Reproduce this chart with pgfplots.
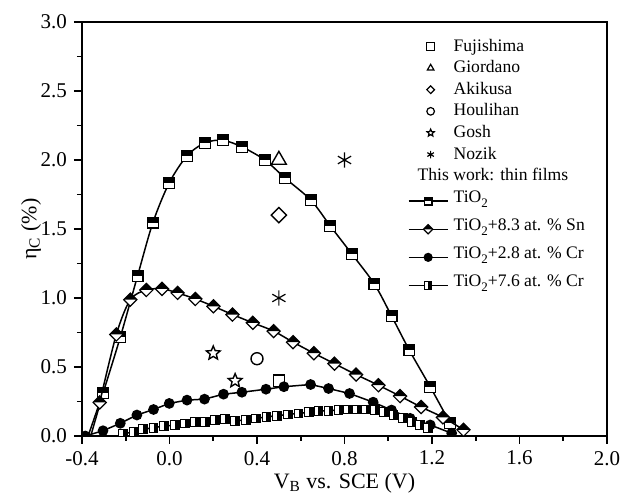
\documentclass[border=0pt]{standalone}
\usepackage{fontspec}
\setmainfont{Liberation Serif}
\usepackage{pgfplots}
\pgfplotsset{compat=1.18}

\pgfdeclareplotmark{sqtop}{%
 \pgfpathrectangle{\pgfqpoint{-\pgfplotmarksize}{-\pgfplotmarksize}}{\pgfqpoint{2\pgfplotmarksize}{2\pgfplotmarksize}}%
 \pgfsetfillcolor{white}\pgfusepathqfill
 \pgfpathrectangle{\pgfqpoint{-\pgfplotmarksize}{0pt}}{\pgfqpoint{2\pgfplotmarksize}{\pgfplotmarksize}}%
 \pgfsetfillcolor{black}\pgfusepathqfill
 \pgfpathrectangle{\pgfqpoint{-\pgfplotmarksize}{-\pgfplotmarksize}}{\pgfqpoint{2\pgfplotmarksize}{2\pgfplotmarksize}}%
 \pgfusepathqstroke
}
\pgfdeclareplotmark{sqright}{%
 \pgfpathrectangle{\pgfqpoint{-\pgfplotmarksize}{-\pgfplotmarksize}}{\pgfqpoint{2\pgfplotmarksize}{2\pgfplotmarksize}}%
 \pgfsetfillcolor{white}\pgfusepathqfill
 \pgfpathrectangle{\pgfqpoint{0pt}{-\pgfplotmarksize}}{\pgfqpoint{\pgfplotmarksize}{2\pgfplotmarksize}}%
 \pgfsetfillcolor{black}\pgfusepathqfill
 \pgfpathrectangle{\pgfqpoint{-\pgfplotmarksize}{-\pgfplotmarksize}}{\pgfqpoint{2\pgfplotmarksize}{2\pgfplotmarksize}}%
 \pgfusepathqstroke
}
\pgfdeclareplotmark{diatop}{%
 \pgfpathmoveto{\pgfqpoint{0pt}{\pgfplotmarksize}}%
 \pgfpathlineto{\pgfqpoint{\pgfplotmarksize}{0pt}}%
 \pgfpathlineto{\pgfqpoint{0pt}{-\pgfplotmarksize}}%
 \pgfpathlineto{\pgfqpoint{-\pgfplotmarksize}{0pt}}%
 \pgfpathclose
 \pgfsetfillcolor{white}\pgfusepathqfill
 \pgfpathmoveto{\pgfqpoint{-\pgfplotmarksize}{0pt}}%
 \pgfpathlineto{\pgfqpoint{0pt}{\pgfplotmarksize}}%
 \pgfpathlineto{\pgfqpoint{\pgfplotmarksize}{0pt}}%
 \pgfpathclose
 \pgfsetfillcolor{black}\pgfusepathqfill
 \pgfpathmoveto{\pgfqpoint{0pt}{\pgfplotmarksize}}%
 \pgfpathlineto{\pgfqpoint{\pgfplotmarksize}{0pt}}%
 \pgfpathlineto{\pgfqpoint{0pt}{-\pgfplotmarksize}}%
 \pgfpathlineto{\pgfqpoint{-\pgfplotmarksize}{0pt}}%
 \pgfpathclose
 \pgfusepathqstroke
}
\pgfdeclareplotmark{openstar}{%
 \pgfpathmoveto{\pgfpointpolar{90}{\pgfplotmarksize}}%
 \pgfpathlineto{\pgfpointpolar{126}{0.45*\pgfplotmarksize}}%
 \pgfpathlineto{\pgfpointpolar{162}{\pgfplotmarksize}}%
 \pgfpathlineto{\pgfpointpolar{198}{0.45*\pgfplotmarksize}}%
 \pgfpathlineto{\pgfpointpolar{234}{\pgfplotmarksize}}%
 \pgfpathlineto{\pgfpointpolar{270}{0.45*\pgfplotmarksize}}%
 \pgfpathlineto{\pgfpointpolar{306}{\pgfplotmarksize}}%
 \pgfpathlineto{\pgfpointpolar{342}{0.45*\pgfplotmarksize}}%
 \pgfpathlineto{\pgfpointpolar{18}{\pgfplotmarksize}}%
 \pgfpathlineto{\pgfpointpolar{54}{0.45*\pgfplotmarksize}}%
 \pgfpathclose
 \pgfusepathqstroke
}
\pgfdeclareplotmark{opendia}{%
 \pgfpathmoveto{\pgfqpoint{0pt}{\pgfplotmarksize}}%
 \pgfpathlineto{\pgfqpoint{\pgfplotmarksize}{0pt}}%
 \pgfpathlineto{\pgfqpoint{0pt}{-\pgfplotmarksize}}%
 \pgfpathlineto{\pgfqpoint{-\pgfplotmarksize}{0pt}}%
 \pgfpathclose
 \pgfusepathqstroke
}

\newcommand\lsub[1]{\raisebox{-0.7ex}{\fontsize{6.5}{7}\selectfont #1}}

\pgfplotsset{
 markleg/.style={legend image code/.code={\path[draw=none,fill=none] (0pt,0pt) rectangle (21.5pt,0.1pt); \draw[##1, mark size=1.9pt, line width=0.6pt] plot coordinates {(11pt,0pt)};}},
 lineleg/.style={legend image code/.code={\path[draw=none,fill=none] (0pt,-6.3pt) rectangle (21.5pt,2.3pt); \draw[##1, mark size=#1, mark repeat=2, mark phase=2] plot coordinates {(0pt,0pt) (9.75pt,0pt) (19.5pt,0pt)};}},
}

\begin{document}
\begin{tikzpicture}
\begin{axis}[
 width=262.5pt, height=207pt, scale only axis,
 xmin=-0.4, xmax=2.0, ymin=0, ymax=3.0,
 xtick={-0.4,0,0.4,0.8,1.2,1.6,2.0},
 minor xtick={-0.2,0.2,0.6,1.0,1.4,1.8},
 ytick={0,0.5,1.0,1.5,2.0,2.5,3.0},
 minor ytick={0.25,0.75,1.25,1.75,2.25,2.75},
 tick align=outside, xtick pos=left, ytick pos=left,
 major tick length=4pt, minor tick length=2.5pt,
 every tick/.style={black, line width=0.9pt},
 axis line style={line width=1pt},
 /pgf/number format/assume math mode=true,
 xticklabel style={/pgf/number format/.cd, fixed, fixed zerofill, precision=1},
 yticklabel style={/pgf/number format/.cd, fixed, fixed zerofill, precision=1},
 tick label style={font=\fontsize{10.5}{12}\selectfont},
 label style={font=\fontsize{11}{13}\selectfont},
 xlabel={V\textsubscript{B} vs. SCE (V)},
 xlabel style={yshift=3pt},
 ylabel={η\textsubscript{C} (\%)},
 ylabel style={yshift=-7pt},
 clip marker paths=true,
 legend cell align=left,
 legend style={at={(axis description cs:0.620,0.965)}, anchor=north west,
   draw=none, fill=none, inner sep=0pt, row sep=1.2pt,
   font=\fontsize{8.8}{10}\selectfont, nodes={inner sep=1pt}},
]
% literature points
\addplot[only marks, mark=square, mark size=2.8pt, line width=0.7pt, markleg] coordinates {(0.5,0.40)};
\addlegendentry{Fujishima}
\addplot[only marks, mark=triangle, mark size=4.3pt, line width=0.7pt, markleg] coordinates {(0.5,2.0)};
\addlegendentry{Giordano}
\addplot[only marks, mark=opendia, mark size=3.8pt, line width=0.7pt, markleg] coordinates {(0.5,1.6)};
\addlegendentry{Akikusa}
\addplot[only marks, mark=o, mark size=3pt, line width=0.7pt, markleg] coordinates {(0.4,0.56)};
\addlegendentry{Houlihan}
\addplot[only marks, mark=openstar, mark size=3.6pt, line width=0.7pt, markleg] coordinates {(0.2,0.60) (0.3,0.40)};
\addlegendentry{Gosh}
\addplot[only marks, mark=asterisk, mark size=3.8pt, line width=0.6pt, markleg] coordinates {(0.5,1.0) (0.8,2.0)};
\addlegendentry{Nozik}
\addlegendimage{empty legend}
\addlegendentry{\hspace*{-18pt}This work: thin films}
% tails
\addplot[forget plot, line width=0.75pt] coordinates {(-0.36,0) (-0.304,0.31)};
\addplot[forget plot, line width=0.75pt] coordinates {(-0.372,0) (-0.319,0.243)};
% TiO2
\addplot[smooth, line width=0.75pt, mark=sqtop, mark size=2.7pt, mark options={line width=0.6pt}, lineleg=1.9pt] coordinates {
(-0.304,0.31) (-0.225,0.716) (-0.146,1.16) (-0.076,1.546) (-0.001,1.835) (0.08,2.03) (0.162,2.124) (0.244,2.143) (0.331,2.095) (0.436,2.0) (0.529,1.868) (0.647,1.708) (0.735,1.522) (0.834,1.318) (0.937,1.10) (1.015,0.87) (1.097,0.62) (1.192,0.356) (1.283,0.092)};
\addlegendentry[text depth=5pt]{TiO\lsub{2}}
% Sn
\addplot[smooth, line width=0.75pt, mark=diatop, mark size=3.3pt, mark options={line width=0.6pt}, lineleg=2.3pt] coordinates {
(-0.319,0.243) (-0.243,0.736) (-0.179,0.988) (-0.106,1.058) (-0.034,1.066) (0.037,1.037) (0.118,0.993) (0.201,0.94) (0.288,0.88) (0.381,0.82) (0.476,0.76) (0.565,0.68) (0.66,0.60) (0.754,0.524) (0.853,0.445) (0.955,0.368) (1.054,0.289) (1.15,0.21) (1.25,0.135) (1.344,0.045)};
\addlegendentry[text depth=5pt]{TiO\lsub{2}+8.3 at. \% Sn}
% Cr 2.8
\addplot[line width=0.75pt, mark=*, mark size=2.3pt, lineleg=1.9pt] coordinates {
(-0.385,0.0) (-0.304,0.038) (-0.225,0.092) (-0.149,0.152) (-0.073,0.192) (-0.001,0.236) (0.08,0.26) (0.16,0.267) (0.247,0.303) (0.331,0.317) (0.441,0.339) (0.523,0.357) (0.645,0.373) (0.727,0.344) (0.823,0.308) (0.931,0.245) (1.015,0.188) (1.10,0.128) (1.192,0.08) (1.29,0.02)};
\addlegendentry[text depth=5pt]{TiO\lsub{2}+2.8 at. \% Cr}
% Cr 7.6
\addplot[line width=0.75pt, mark=sqright, mark size=2.2pt, mark options={line width=0.5pt}, lineleg=1.8pt] coordinates {
(-0.213,0.014) (-0.164,0.031) (-0.121,0.048) (-0.073,0.06) (-0.024,0.072) (0.026,0.079) (0.072,0.091) (0.118,0.099) (0.163,0.103) (0.209,0.115) (0.255,0.123) (0.30,0.108) (0.351,0.118) (0.397,0.127) (0.443,0.139) (0.491,0.147) (0.54,0.156) (0.59,0.163) (0.636,0.171) (0.681,0.18) (0.727,0.183) (0.773,0.188) (0.814,0.192) (0.856,0.192) (0.899,0.192) (0.94,0.188) (0.982,0.171) (1.024,0.152) (1.067,0.128) (1.108,0.104) (1.146,0.08) (1.18,0.056)};
\addlegendentry[text depth=5pt]{TiO\lsub{2}+7.6 at. \% Cr}
\end{axis}
\pgfresetboundingbox
\path ([shift={(-41pt,-30pt)}]current axis.south west) rectangle ([shift={(7.5pt,11pt)}]current axis.north east);
\end{tikzpicture}
\end{document}
